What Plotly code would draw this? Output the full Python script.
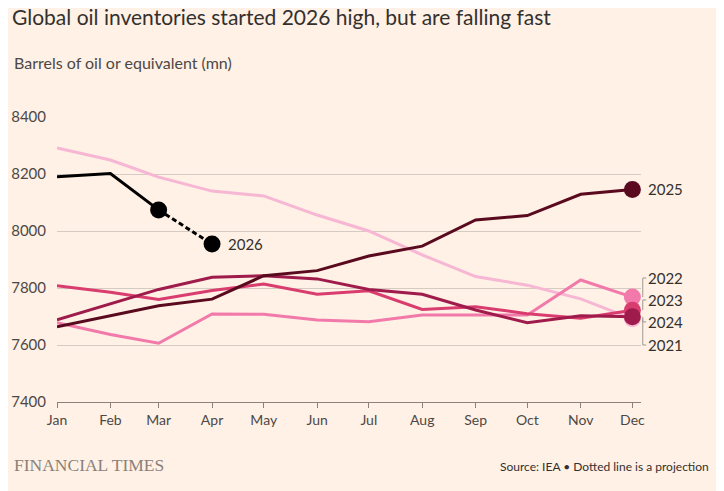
import plotly.graph_objects as go

# Month start dates (non-leap base year so spacing follows calendar days)
months = ["2025-%02d-01" % m for m in range(1, 13)]
month_labels = ["Jan", "Feb", "Mar", "Apr", "May", "Jun",
                "Jul", "Aug", "Sep", "Oct", "Nov", "Dec"]

# Inventories, mn barrels
inv_2021 = [8291, 8249, 8189, 8140, 8123, 8056, 8000, 7916, 7840, 7810, 7762, 7692]
inv_2022 = [7678, 7637, 7606, 7709, 7708, 7688, 7682, 7705, 7705, 7705, 7828, 7768]
inv_2023 = [7808, 7785, 7760, 7791, 7814, 7778, 7790, 7725, 7734, 7710, 7694, 7722]
inv_2024 = [7688, 7744, 7795, 7838, 7843, 7832, 7795, 7778, 7723, 7678, 7703, 7699]
inv_2025 = [7664, 7703, 7738, 7761, 7843, 7861, 7912, 7947, 8039, 8054, 8129, 8146]
inv_2026 = [8190, 8202, 8074]        # actual
proj_2026 = [8074, 7954]             # projection, Mar -> Apr

colours = {
    "2021": "#f7b6d3",
    "2022": "#f27aab",
    "2023": "#d93c6e",
    "2024": "#9f1b4b",
    "2025": "#5a0a1f",
    "2026": "#000000",
}

BG = "#fff1e5"
TEXT = "#33302e"
FONT = "Lato"

fig = go.Figure()

for year, vals in [("2021", inv_2021), ("2022", inv_2022), ("2023", inv_2023),
                   ("2024", inv_2024), ("2025", inv_2025)]:
    fig.add_trace(go.Scatter(
        x=months, y=vals, mode="lines",
        line=dict(color=colours[year], width=3),
        showlegend=False, hoverinfo="skip",
    ))

# end markers, drawn after the lines
for year, vals in [("2021", inv_2021), ("2022", inv_2022), ("2023", inv_2023),
                   ("2024", inv_2024), ("2025", inv_2025)]:
    fig.add_trace(go.Scatter(
        x=[months[-1]], y=[vals[-1]], mode="markers",
        marker=dict(color=colours[year], size=17),
        showlegend=False, hoverinfo="skip",
    ))

fig.add_trace(go.Scatter(
    x=months[:3], y=inv_2026, mode="lines",
    line=dict(color=colours["2026"], width=3),
    showlegend=False, hoverinfo="skip",
))
fig.add_trace(go.Scatter(
    x=months[2:4], y=proj_2026, mode="lines",
    line=dict(color=colours["2026"], width=3, dash="5px,3px"),
    showlegend=False, hoverinfo="skip",
))
fig.add_trace(go.Scatter(
    x=months[2:4], y=proj_2026, mode="markers",
    marker=dict(color=colours["2026"], size=17),
    showlegend=False, hoverinfo="skip",
))

# labels
fig.add_annotation(x=months[3], y=proj_2026[-1], text="2026", showarrow=False,
                   xanchor="left", xshift=14, font=dict(size=15, color=TEXT, family=FONT))
fig.add_annotation(x=months[-1], y=inv_2025[-1], text="2025", showarrow=False,
                   xanchor="left", xshift=14, font=dict(size=15, color=TEXT, family=FONT))

# stacked labels at the right with leader brackets (label y, end value)
right_labels = [("2022", 7835, inv_2022[-1]), ("2023", 7758, inv_2023[-1]),
                ("2024", 7681, inv_2024[-1]), ("2021", 7600, inv_2021[-1])]
for year, label_y, end_y in right_labels:
    fig.add_annotation(x=months[-1], y=label_y, text=year, showarrow=False,
                       xanchor="left", xshift=14, font=dict(size=15, color=TEXT, family=FONT))
    fig.add_shape(type="line", xref="paper", yref="y", x0=1.003, x1=1.003,
                  y0=label_y, y1=end_y, line=dict(color="#a09890", width=1))
    fig.add_shape(type="line", xref="paper", yref="y", x0=1.003, x1=1.009,
                  y0=label_y, y1=label_y, line=dict(color="#a09890", width=1))

# page body adds an 8px offset, so the figure is laid out 8px up/left
fig.update_layout(
    width=724, height=491,
    paper_bgcolor=BG, plot_bgcolor=BG,
    margin=dict(l=49, r=91, t=109, b=97),
    font=dict(family=FONT, color=TEXT, size=14),
    title=dict(text="Global oil inventories started 2026 high, but are falling fast",
               x=4 / 724, xanchor="left", y=1 - 10 / 491, yanchor="middle",
               font=dict(size=21, color=TEXT, family=FONT)),
)

fig.add_annotation(text="Barrels of oil or equivalent (mn)", xref="paper", yref="paper",
                   x=-45 / 584, y=1 + 55 / 285, xanchor="left", yanchor="middle",
                   showarrow=False, font=dict(size=16, color="#4d4845", family=FONT))
fig.add_annotation(text="FINANCIAL TIMES", xref="paper", yref="paper",
                   x=-45 / 584, y=-63 / 285, xanchor="left", yanchor="middle",
                   showarrow=False, font=dict(size=17.5, color="#8a817a", family="Liberation Serif"))
fig.add_annotation(text="Source: IEA \u2022 Dotted line is a projection", xref="paper", yref="paper",
                   x=1 + 70 / 584, y=-64 / 285, xanchor="right", yanchor="middle",
                   showarrow=False, font=dict(size=12, color=TEXT, family=FONT))

fig.update_xaxes(
    type="date", range=["2025-01-01", "2025-12-06"],
    tickvals=months, ticktext=month_labels,
    showgrid=False, zeroline=False, automargin=False,
    showline=True, linecolor="#8a817a", linewidth=1,
    ticks="outside", ticklen=5, tickcolor="#8a817a",
    tickfont=dict(size=14, color="#4d4845"),
)
fig.update_yaxes(
    range=[7400, 8400], dtick=200,
    showgrid=True, gridcolor="#d6cbc2", gridwidth=1,
    zeroline=False, showline=False, automargin=False,
    ticks="", ticklabelstandoff=10,
    tickfont=dict(size=15, color="#4d4845"),
)

fig.write_html("out.html")
